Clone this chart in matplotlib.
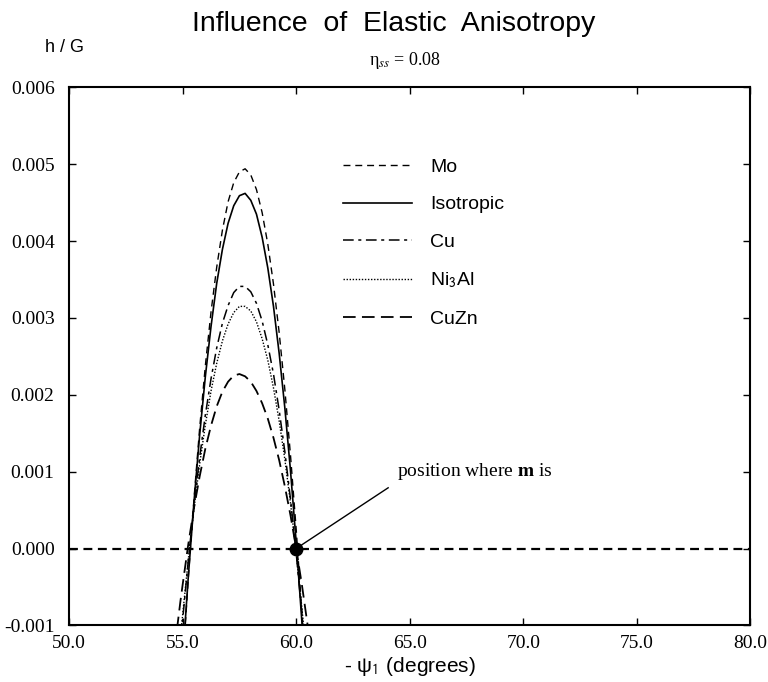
import numpy as np
import matplotlib
matplotlib.use("Agg")
import matplotlib.pyplot as plt

plt.rcParams["mathtext.fontset"] = "stix"

# Valores (h/G em unidades de 1e-3)
psi = [54.75, 54.9, 55.0, 55.25, 55.5, 55.75, 56.0, 56.25, 56.5, 56.75, 57.0, 57.25,
       57.5, 57.75, 58.0, 58.25, 58.5, 58.75, 59.0, 59.25, 59.5, 59.75, 60.0, 60.25,
       60.5, 60.75]

mo = [-2.78, -2.01, -1.53, -0.38, 0.65, 1.57, 2.38, 3.08, 3.66, 4.14, 4.51, 4.76,
      4.90, 4.94, 4.86, 4.67, 4.37, 3.96, 3.44, 2.81, 2.07, 1.21, 0.25, -0.83,
      -2.01, -3.31]
isotropico = [-2.62, -1.90, -1.44, -0.36, 0.61, 1.48, 2.24, 2.89, 3.45, 3.89, 4.23, 4.46,
              4.59, 4.62, 4.53, 4.35, 4.05, 3.65, 3.15, 2.54, 1.83, 1.01, 0.08, -0.95,
              -2.09, -3.33]
cu = [-1.80, -1.27, -0.93, -0.15, 0.56, 1.19, 1.74, 2.21, 2.61, 2.93, 3.16, 3.33,
      3.41, 3.41, 3.34, 3.19, 2.96, 2.65, 2.27, 1.80, 1.26, 0.64, -0.06, -0.84,
      -1.69, -2.62]
ni3al = [-1.66, -1.17, -0.86, -0.14, 0.52, 1.10, 1.61, 2.05, 2.41, 2.70, 2.92, 3.07,
         3.15, 3.15, 3.09, 2.95, 2.73, 2.45, 2.09, 1.66, 1.16, 0.59, -0.05, -0.77,
         -1.56, -2.42]
cuzn = [-1.05, -0.69, -0.47, 0.06, 0.53, 0.94, 1.30, 1.60, 1.85, 2.04, 2.17, 2.25,
        2.27, 2.24, 2.17, 2.05, 1.89, 1.69, 1.44, 1.15, 0.81, 0.43, 0.00, -0.47,
        -0.99, -1.55]

nomes = ["Mo", "Isotropic", "Cu", r"Ni$_\mathsf{3}$Al", "CuZn"]
series = [mo, isotropico, cu, ni3al, cuzn]

x_ticks = [50.0, 55.0, 60.0, 65.0, 70.0, 75.0, 80.0]
y_ticks = [-0.001, 0.000, 0.001, 0.002, 0.003, 0.004, 0.005, 0.006]

# Estilos das linhas
estilos = [(0, (5, 3.5)), "-", (0, (7, 3, 2, 3)), (0, (1, 1.2)), (0, (7, 3.5))]
larguras = [1.0, 1.2, 1.1, 1.0, 1.3]

fig = plt.figure(figsize=(7.68, 6.82), dpi=100)
ax = fig.add_axes([0.090, 0.083, 0.887, 0.789])

for nome, valores, estilo, lw in zip(nomes, series, estilos, larguras):
    ax.plot(psi, np.array(valores) * 1e-3, color="black", linestyle=estilo, lw=lw, label=nome)

# Linha do zero e ponto marcado
ax.plot([50.0, 80.0], [0.0, 0.0], color="black", linestyle=(0, (4, 2.5)), lw=1.6)
ax.plot([60.0], [0.0], "o", color="black", ms=9)
ax.plot([60.0, 64.05], [0.0, 0.00079], color="black", lw=1.0)
ax.text(64.45, 0.00100, r"position where $\mathbf{m}$ is", family="Liberation Serif",
        fontsize=14, va="center", ha="left")

ax.set_xlim(50, 80)
ax.set_ylim(-0.001, 0.006)
ax.set_xticks(x_ticks)
ax.set_xticklabels([f"{v:.1f}" for v in x_ticks], family="Liberation Serif", fontsize=14)
ax.set_yticks(y_ticks)
ax.set_yticklabels([f"{v:.3f}".replace("-0.000", "0.000") for v in y_ticks],
                   family="Liberation Serif", fontsize=14)
ax.tick_params(direction="in", length=5, top=True, right=True, width=1.0)
ax.tick_params(axis="y", pad=10.5)
ax.tick_params(axis="x", pad=7)
for lado in ax.spines.values():
    lado.set_linewidth(1.5)

ax.set_xlabel("- ψ$_\\mathsf{1}$ (degrees)", family="Liberation Sans", fontsize=15, labelpad=2)

leg = ax.legend(loc="upper left", bbox_to_anchor=(0.402, 0.868), frameon=False,
                handlelength=3.55, handletextpad=0.93, labelspacing=1.02,
                borderpad=0, borderaxespad=0, prop={"family": "Liberation Sans", "size": 14})

fig.text(0.512, 0.965, "Influence  of  Elastic  Anisotropy", family="Liberation Sans",
         fontsize=20.5, ha="center", va="center")
fig.text(0.084, 0.930, "h / G", family="Liberation Sans", fontsize=13, ha="center", va="center")
fig.text(0.527, 0.912, "η$_{ss}$ = 0.08", family="Liberation Serif", fontsize=13,
         ha="center", va="center")

fig.savefig("out.png", dpi=100)
